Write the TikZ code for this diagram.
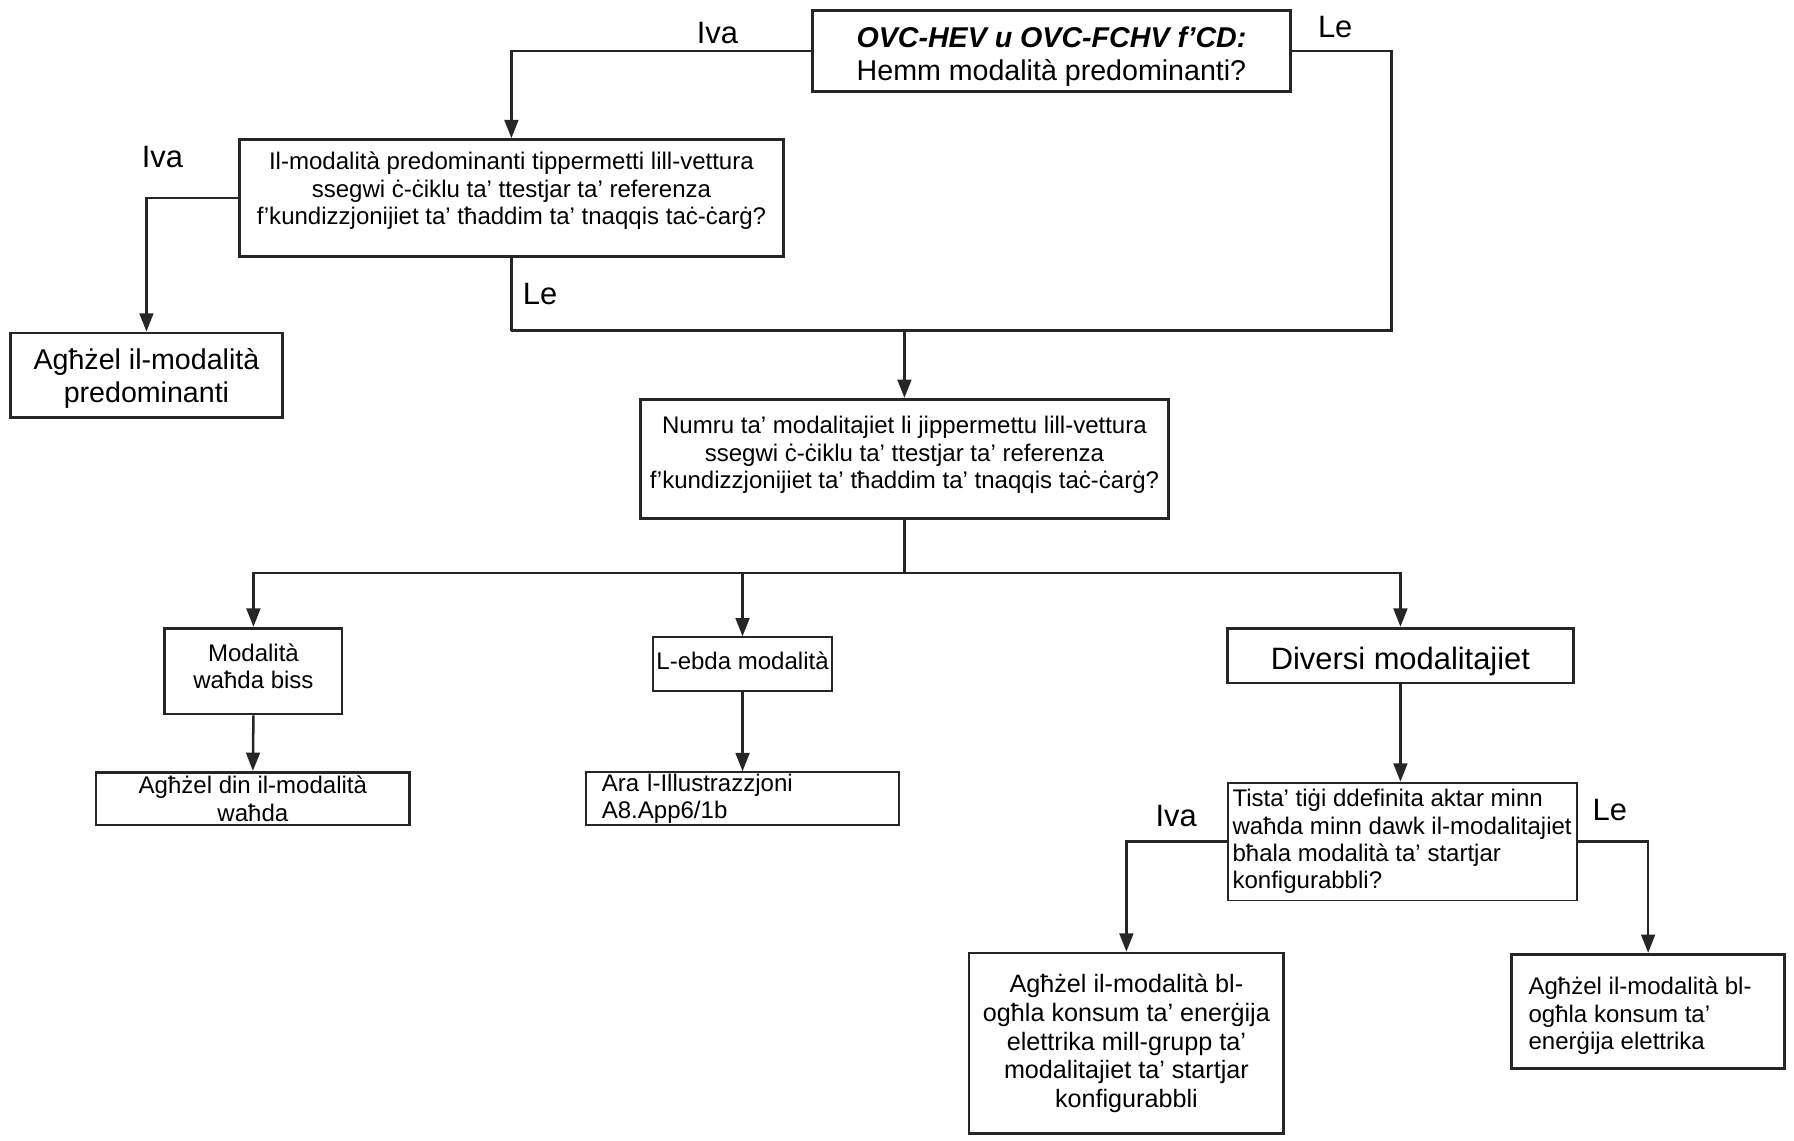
\documentclass[tikz,border=0pt]{standalone}
\usepackage{fontspec}
\setmainfont{Liberation Sans}
\usetikzlibrary{arrows.meta}
\newcommand\bxt[4]{\parbox[c][#2][c]{#1}{#4\par\vspace*{#3}}}
\begin{document}
\begin{tikzpicture}[x=0.5pt,y=-0.5pt,
  box/.style={draw=black!85, line width=1.2pt, inner sep=0pt, align=center, fill=white,
    font=\fontsize{10.5}{12}\selectfont},
  conn/.style={line width=1.1pt, draw=black!85},
  arr/.style={conn, -{Triangle[length=8pt,width=6pt]}},
  lbl/.style={font=\fontsize{13.5}{16}\selectfont, inner sep=0pt}]
\useasboundingbox (0,0) rectangle (1568,997);

% nodes
\node[box, minimum width=209pt, minimum height=35.5pt, font=\fontsize{12.5}{14.5}\selectfont]
  (top) at (919,44.5) {\bxt{209pt}{35.5pt}{-5pt}{\centering\textbf{\textit{OVC-HEV u OVC-FCHV f’CD:}}\\Hemm modalità predominanti?}};
\node[box, minimum width=238pt, minimum height=51pt] (q2) at (447,173)
  {\parbox[c][51pt][t]{238pt}{\centering\vspace*{5.5pt}Il-modalità predominanti tippermetti lill-vettura\\ssegwi ċ-ċiklu ta’ ttestjar ta’ referenza\\f’kundizzjonijiet ta’ tħaddim ta’ tnaqqis taċ-ċarġ?}};
\node[box, minimum width=119pt, minimum height=37pt, font=\fontsize{12.5}{14.5}\selectfont]
  (predom) at (128,328) {\bxt{119pt}{37pt}{-3pt}{\centering Agħżel il-modalità\\predominanti}};
\node[box, minimum width=230.5pt, minimum height=52pt] (q3) at (790.5,401)
  {\parbox[c][52pt][t]{230.5pt}{\centering\vspace*{7.5pt}Numru ta’ modalitajiet li jippermettu lill-vettura\\ssegwi ċ-ċiklu ta’ ttestjar ta’ referenza\\f’kundizzjonijiet ta’ tħaddim ta’ tnaqqis taċ-ċarġ?}};
\node[box, minimum width=77.5pt, minimum height=37.5pt] (one) at (221.5,586.5)
  {\bxt{77.5pt}{37.5pt}{4pt}{\centering Modalità\\waħda biss}};
\node[box, minimum width=137pt, minimum height=23pt] (onesel) at (221,698) {Agħżel din il-modalità\\waħda};
\node[box, line width=0.8pt, minimum width=78pt, minimum height=23.5pt] (none) at (649,580.5)
  {\bxt{78pt}{23.5pt}{3pt}{\centering L-ebda modalità}};
\node[box, line width=0.9pt, minimum height=23pt, text width=123pt, align=left, inner xsep=7pt]
  (ara) at (649,698) {Ara l-Illustrazzjoni\\A8.App6/1b};
\node[box, minimum width=151pt, minimum height=24pt, font=\fontsize{13.5}{16}\selectfont]
  (div) at (1224,573) {\bxt{151pt}{24pt}{-5pt}{\centering Diversi modalitajiet}};
\node[box, line width=0.8pt, minimum width=152.5pt, minimum height=51.5pt, align=left]
  (q4) at (1225.5,735.5) {Tista’ tiġi ddefinita aktar minn\\waħda minn dawk il-modalitajiet\\bħala modalità ta’ startjar\\konfigurabbli?};
\node[box, minimum width=137.5pt, minimum height=79pt, font=\fontsize{11}{12.5}\selectfont]
  (selA) at (984.5,912) {Agħżel il-modalità bl-\\ogħla konsum ta’ enerġija\\elettrika mill-grupp ta’\\modalitajiet ta’ startjar\\konfigurabbli};
\node[box, minimum width=119.5pt, minimum height=50pt]
  (selB) at (1440.5,884) {\bxt{104.5pt}{50pt}{-4pt}{\raggedright Agħżel il-modalità bl-\\ogħla konsum ta’\\enerġija elettrika}};

% labels
\node[lbl] (l1) at (627,29) {Iva};
\node[lbl] (l2) at (1167,24) {Le};
\node[lbl] (l3) at (142,137) {Iva};
\node[lbl] (l4) at (472,257) {Le};
\node[lbl] (l5) at (1028,713) {Iva};
\node[lbl] (l6) at (1407,708) {Le};

% connectors
\coordinate (rc) at (1216,289);
\coordinate (lc) at (447,289);
\coordinate (bus) at (790.5,501);
\draw[arr] (top.west) -| (q2.north);
\draw[conn] (top.east) -| (rc) -- (lc);
\draw[conn] (q2.south) -- (lc);
\draw[arr] (q3.north |- rc) -- (q3.north);
\draw[arr] (q2.west) -| (predom.north);
\draw[conn] (q3.south) -- (bus);
\draw[arr] (bus) -| (one.north);
\draw[arr] (bus) -| (div.north);
\draw[arr] (none.north |- bus) -- (none.north);
\draw[arr] (one.south) -- (onesel.north);
\draw[arr] (none.south) -- (ara.north);
\draw[arr] (div.south) -- (div.south |- q4.north);
\draw[arr] (q4.west) -| (selA.north);
\draw[arr] (q4.east) -| (selB.north);
\end{tikzpicture}
\end{document}
